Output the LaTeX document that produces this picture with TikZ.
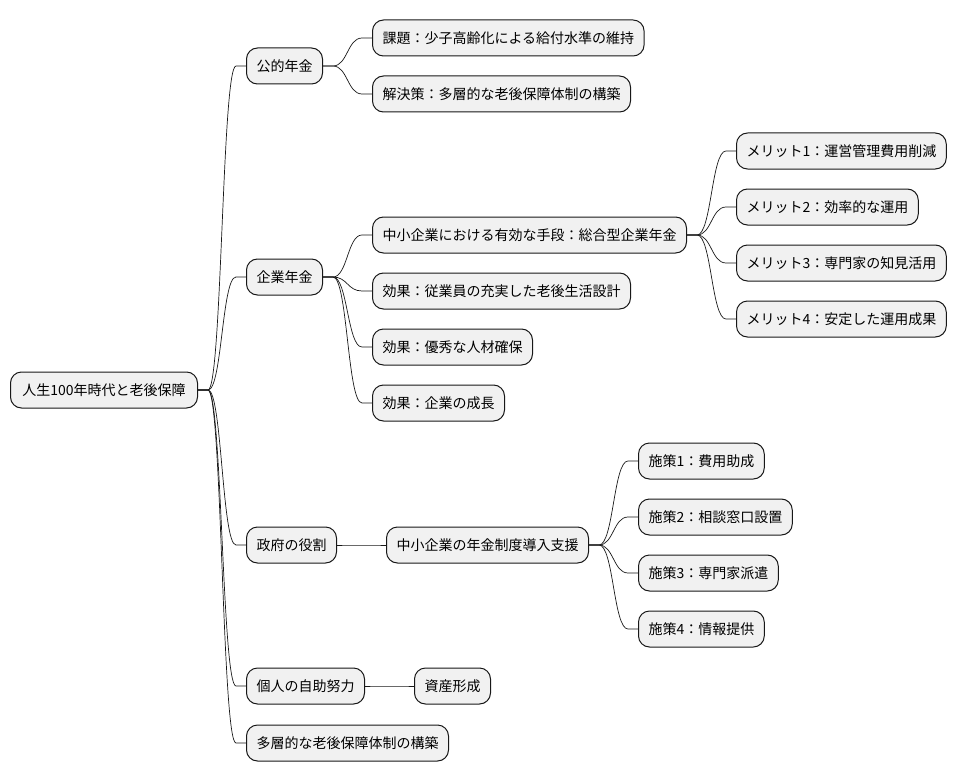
\documentclass[tikz,border=0pt]{standalone}
\usepackage{fontspec}
\setmainfont{Noto Sans CJK JP}
\usepackage{tikz}
\usetikzlibrary{calc}

\definecolor{boxfill}{HTML}{F1F1F1}
\definecolor{boxline}{HTML}{181818}

\tikzset{
  topic/.style={draw=boxline,fill=boxfill,line width=1pt,rounded corners=11pt,
    anchor=west,minimum height=36pt,inner xsep=10pt,inner ysep=0pt,
    font=\fontsize{14pt}{16pt}\selectfont},
  edge/.style={draw=boxline,line width=0.7pt}
}
\newcommand{\link}[2]{%
  \draw[edge] let \p1=([xshift=10pt]#1.east), \p2=([xshift=-10pt]#2.west) in
    (#1.east) -- (\p1) .. controls ({(\x1+\x2)/2},\y1) and ({(\x1+\x2)/2},\y2) .. (\p2) -- (#2.west);}

\begin{document}
\begin{tikzpicture}[line cap=round,line join=round,x=1pt,y=-1pt]
\useasboundingbox (0,0) rectangle (958,781);
\node[topic,minimum width=187pt] (root) at (10,390) {人生100年時代と老後保障};
\node[topic] (koteki) at (246,66) {公的年金};
\node[topic] (kadai) at (372,38) {課題：少子高齢化による給付水準の維持};
\node[topic] (kaiketsu) at (372,94) {解決策：多層的な老後保障体制の構築};
\node[topic] (kigyo) at (246,277) {企業年金};
\node[topic] (shudan) at (372,235) {中小企業における有効な手段：総合型企業年金};
\node[topic] (merit1) at (736,151) {メリット1：運営管理費用削減};
\node[topic] (merit2) at (736,207) {メリット2：効率的な運用};
\node[topic] (merit3) at (736,263) {メリット3：専門家の知見活用};
\node[topic] (merit4) at (736,319) {メリット4：安定した運用成果};
\node[topic] (koka1) at (372,291) {効果：従業員の充実した老後生活設計};
\node[topic] (koka2) at (372,347) {効果：優秀な人材確保};
\node[topic] (koka3) at (372,403) {効果：企業の成長};
\node[topic] (seifu) at (246,545) {政府の役割};
\node[topic] (shien) at (386,545) {中小企業の年金制度導入支援};
\node[topic] (saku1) at (638,461) {施策1：費用助成};
\node[topic] (saku2) at (638,517) {施策2：相談窓口設置};
\node[topic] (saku3) at (638,573) {施策3：専門家派遣};
\node[topic] (saku4) at (638,629) {施策4：情報提供};
\node[topic] (kojin) at (246,686) {個人の自助努力};
\node[topic] (shisan) at (414,686) {資産形成};
\node[topic] (taso) at (246,743) {多層的な老後保障体制の構築};
% root
\link{root}{koteki}
\link{root}{kigyo}
\link{root}{seifu}
\link{root}{kojin}
\link{root}{taso}
% kouteki nenkin
\link{koteki}{kadai}
\link{koteki}{kaiketsu}
% kigyo nenkin
\link{kigyo}{shudan}
\link{kigyo}{koka1}
\link{kigyo}{koka2}
\link{kigyo}{koka3}
\link{shudan}{merit1}
\link{shudan}{merit2}
\link{shudan}{merit3}
\link{shudan}{merit4}
% seifu
\link{seifu}{shien}
\link{shien}{saku1}
\link{shien}{saku2}
\link{shien}{saku3}
\link{shien}{saku4}
% kojin
\link{kojin}{shisan}
\end{tikzpicture}
\end{document}
